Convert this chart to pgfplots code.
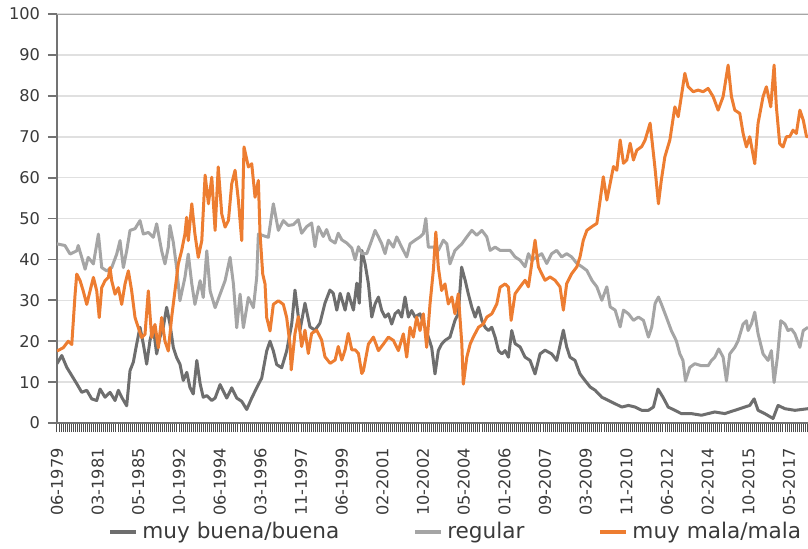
\documentclass[border=0pt]{standalone}
\usepackage{fontspec}
\setmainfont{DejaVu Sans}
\usepackage{pgfplots}
\pgfplotsset{compat=1.18}
\definecolor{cbuena}{HTML}{6E6E6E}
\definecolor{cregular}{HTML}{A5A5A5}
\definecolor{cmala}{HTML}{ED7D31}
\definecolor{ctext}{HTML}{3A3A3A}

\begin{document}
\begin{tikzpicture}
\begin{axis}[
  width=375.5pt, height=204.5pt, scale only axis,
  xmin=0, xmax=361, ymin=0, ymax=100,
  axis lines=left, axis line style={-, black!55, line width=0.9pt},
  tick align=outside,
  xtick={0,19.55,...,352},
  xticklabels={06-1979,03-1981,05-1985,10-1992,06-1994,03-1996,11-1997,06-1999,02-2001,10-2002,05-2004,01-2006,09-2007,03-2009,11-2010,06-2012,02-2014,10-2015,05-2017},
  minor xtick={0,0.9775,...,361},
  major tick length=4.5pt, minor tick length=4.5pt,
  x tick style={black!70, line width=0.5pt},
  ytick={0,10,...,100},
  y tick style={black!55, line width=0.9pt},
  ymajorgrids, grid style={black!12, line width=0.8pt},
  tick label style={font=\fontsize{8.1}{10}\selectfont, text=ctext},
  xticklabel style={rotate=90, anchor=east},
  xticklabel shift=4.5pt,
  yticklabel shift=0.5pt,
  /pgf/number format/assume math mode=true,
  legend columns=-1,
  legend style={at={(0.0679,-0.2665)}, anchor=west, draw=none, fill=none, inner sep=0pt,
    font=\fontsize{10.8}{12}\selectfont, text=ctext,
    /tikz/every even column/.append style={column sep=35pt}},
  legend image code/.code={\draw[#1, line width=2pt] (0pt,0pt) -- (13pt,0pt);},
]
\draw[black!35, line width=0.9pt] (axis cs:0,100) -- (axis cs:361,100);

% muy buena/buena
\addplot[cbuena, line width=1.5pt, line join=round] coordinates {
(0,14.5)(2.3,16.5)(4.7,13.6)(7.1,11.6)(9.5,9.6)(11.9,7.5)(14.3,8)(16.7,5.9)(19.1,5.5)(20.7,8.3)(23.1,6.3)(25.5,7.5)(27.9,5.5)(29.5,8)(31.1,6.3)(33.5,4.2)(35.1,12.8)(36.7,14.9)(38.3,19.3)(39.9,23.4)(41.5,19.3)(43.1,14.4)(44.7,20.2)(46.3,23.4)(47.9,16.9)(49.5,21)(51.1,23.4)(52.7,28.3)(54.3,24.2)(55.9,18.5)(57.5,16)(59.1,14.4)(60.7,10.4)(62.4,12.4)(63.9,8.7)(65.5,7.1)(67.2,15.3)(68.8,9.6)(70.3,6.3)(72,6.7)(74.4,5.5)(76,6.1)(78.4,9.4)(81.6,6.1)(84,8.6)(86.4,6.1)(88.8,5.3)(91.2,3.3)(93.6,6.1)(96,8.6)(98.4,11)(100.8,17.6)(102.4,20)(104,17.6)(105.6,14.3)(108,13.5)(110.4,17.6)(112.8,24.1)(114.4,32.5)(116.8,22.7)(119.2,29.3)(121.6,23.5)(124,22.7)(126.4,24.4)(128.8,29.3)(131.2,32.5)(132.8,31.7)(134.5,27.6)(136.1,31.7)(138.5,27.6)(140,31.7)(142.5,27.6)(144.1,34.2)(145.3,29.3)(146.5,42.2)(148.1,38.9)(149.7,34)(151.3,25.9)(152.9,29.1)(154.5,30.8)(156.1,27.5)(157.7,25.9)(159.3,26.7)(160.9,24.2)(162.5,26.7)(164.1,27.5)(165.7,25.9)(167.3,30.8)(168.9,25.9)(170.5,27.5)(172.1,25.9)(174.5,26.7)(176.9,23.4)(178.5,21)(180.1,18.5)(181.7,12)(183.3,17.7)(184.9,19.3)(186.5,20.2)(188.9,21)(191.3,25.1)(192.9,26.7)(194.5,38.1)(196.2,34.9)(197.7,31.6)(199.4,28.3)(201,25.9)(202.6,28.3)(204.2,25.1)(205.8,23.4)(207.4,22.6)(209,23.4)(210.6,21)(212.2,17.7)(213.8,16.9)(215.4,17.7)(217,16.1)(218.6,22.6)(220.2,19.4)(222.6,18.6)(225,16.1)(227.4,15.3)(229.8,12)(232.2,16.9)(234.6,17.8)(237.8,16.9)(240.2,15.3)(243.4,22.7)(245,18.6)(246.6,16.1)(249,15.3)(251.4,12)(253.8,10.4)(256.3,8.8)(258.7,8)(261.9,6.3)(265.1,5.5)(268.3,4.7)(271.5,3.9)(274.7,4.3)(277.9,3.9)(281.1,3.1)(284.3,3.1)(286.7,3.9)(288.9,8.3)(291.3,6.3)(293.8,3.9)(297,3.1)(300.1,2.3)(304.9,2.3)(309.8,1.9)(316.2,2.7)(321,2.3)(325.8,3.1)(330.6,3.9)(333,4.3)(335.1,5.9)(337,3.1)(340.2,2.3)(344.2,1.1)(346.6,4.3)(349.9,3.5)(354.7,3.1)(361,3.5)
};
\addlegendentry{muy buena/buena}

% regular
\addplot[cregular, line width=1.5pt, line join=round] coordinates {
(0,43.8)(3.8,43.4)(6.3,41.3)(9.5,42.1)(10.2,43.4)(11.9,40.5)(13.5,37.6)(15,40.5)(17.5,38.9)(19.9,46.2)(21.5,38)(23.9,37.2)(26.3,38)(28.7,41.3)(30.3,44.6)(31.9,38)(33.5,42.1)(35.1,47.1)(37.5,47.5)(39.9,49.5)(41.5,46.2)(43.9,46.6)(46.3,45.4)(47.9,48.7)(50.3,42.1)(51.9,38.9)(53.5,43)(54.3,48.3)(55.9,44.2)(57.5,38)(59.1,29.9)(61.5,35.6)(63.1,41.3)(64.8,34)(66.3,29)(68.8,34.8)(70.3,30.7)(72,42.1)(73.6,32.3)(76,28.2)(78.4,31.5)(80.8,34.8)(83.2,40.5)(84.8,34)(86.4,23.3)(88,31.5)(89.6,23.3)(92,30.7)(94.4,28.2)(96,35.6)(96.8,46.2)(99.2,45.8)(101.6,45.4)(104,53.6)(106.4,47.1)(108.8,49.5)(111.2,48.3)(113.6,48.5)(116,49.7)(117.6,46.4)(120,48)(122.4,48.9)(124,43.1)(125.6,48)(128,45.6)(129.6,47.3)(131.3,44.8)(133.7,44)(135.2,46.4)(136.9,44.8)(139.3,44)(141.7,42.8)(143.3,39.9)(144.9,43.1)(146.5,41.4)(148.9,41.4)(151.3,44.7)(152.9,47.1)(154.5,45.5)(156.1,43.8)(157.7,41.4)(159.3,44.7)(161.7,43)(163.3,45.5)(165.7,43)(168.1,40.6)(169.7,43.8)(172.1,44.7)(174.5,45.5)(176.1,46.3)(177.3,50)(178.5,43)(180.9,43)(183.3,42.2)(185.7,44.7)(187.4,43.8)(188.9,38.9)(191.3,42.2)(194.6,43.8)(197,45.5)(199.4,47.1)(201.8,45.9)(204.2,47.1)(206.6,45.5)(208.2,42.2)(210.6,43)(213,42.2)(215.4,42.2)(217.8,42.2)(220.2,40.6)(222.6,39.8)(225,38.2)(226.6,41.4)(228.2,39.8)(230.6,40.6)(233,41.4)(235.4,39)(237.8,41.4)(240.2,42.2)(242.6,40.6)(245,41.4)(247.4,40.6)(249.9,39)(252.3,38.2)(254.7,37.3)(257.1,34.9)(259.5,33.3)(261.9,30)(264.3,33.3)(265.9,28.4)(268.3,27.6)(270.7,23.5)(272.3,27.6)(274.7,26.7)(277.1,25.1)(279.5,25.9)(281.9,25.1)(284.3,21)(285.9,23.5)(287.5,29.2)(289.1,30.8)(290.5,29.1)(292.9,25.9)(295.3,22.6)(297.7,20.1)(299.4,16.9)(300.9,15.3)(302.1,10.3)(304.2,13.6)(306.6,14.5)(309.8,14)(313,14)(314.6,15.3)(316.2,16.1)(318.1,18.1)(320.2,16.1)(321.8,10.3)(323.4,16.9)(325.8,18.5)(327.4,20.1)(329.8,24.2)(331.4,25)(332.2,22.6)(333.8,24.2)(335.4,27.1)(337,21.8)(339.4,16.9)(341.8,15.3)(343.4,17.7)(344.7,9.9)(346.3,16.1)(347.9,25)(349.9,24.2)(351.4,22.6)(353,23)(354.7,21.8)(357.1,18.5)(358.7,22.6)(361,23.4)
};
\addlegendentry{regular}

% muy mala/mala
\addplot[cmala, line width=1.5pt, line join=round] coordinates {
(0,17.6)(3,18.4)(5.4,20)(7.1,19.2)(8.7,31.5)(9.5,36.4)(11.1,34.8)(12.6,32.3)(14.3,29)(15.9,32.3)(17.5,35.6)(19.1,32.3)(20.3,25.8)(21.5,33.1)(23.1,34.8)(24.7,35.6)(25.5,38)(26.3,34.8)(27.9,31.5)(29.5,33.1)(31.1,29)(32.7,34)(34.3,37.2)(35.9,32.3)(37.5,25.8)(39.1,23.3)(40.7,20.9)(42.3,21.7)(43.9,32.3)(45.5,20.9)(47.1,24.1)(48.7,18.4)(50.3,25.8)(51.9,20)(53.5,17.6)(55.1,25.8)(56.7,32.3)(58.3,38.9)(59.9,42.1)(61.5,46.2)(62.3,50.3)(63.1,44.6)(64.8,53.6)(66.3,46.2)(67.9,40.5)(69.6,44.6)(71.2,60.6)(72.8,53.6)(74.4,60.1)(76,47.1)(77.5,62.6)(79.2,51.1)(80.8,47.9)(82.4,49.5)(84,58.5)(85.6,61.8)(87.2,54.4)(88.8,44.6)(89.9,67.5)(92,62.6)(93.6,63.4)(95.2,55.2)(96.8,59.3)(97.6,46.2)(98.9,36.4)(100,34)(100.8,25.8)(102.4,22.5)(104,29)(106.4,29.9)(108.8,29)(110.4,25.8)(112,19.2)(112.6,13)(114.4,21.9)(116,26)(117.6,18.7)(119.2,22.7)(120.8,17)(122.4,21.9)(124.8,22.7)(127.2,20.3)(128.8,16.2)(131.3,14.6)(133.7,15.4)(135.2,18.7)(136.9,15.4)(138.5,17.9)(140,21.9)(141.7,17.9)(143.3,17.9)(144.9,17)(146.5,12.1)(147.3,12.8)(149.7,19.3)(152.1,21)(154.5,17.7)(156.9,19.3)(159.3,21)(161.7,20.2)(164.1,17.7)(166.5,21.8)(168.1,16.1)(169.7,23.4)(171.3,21)(172.9,25.9)(174.5,22.6)(176.1,26.7)(177.7,18.5)(179.3,29.1)(180.9,37.3)(182.1,46.7)(183.3,38.1)(184.9,32.4)(186.5,34)(188.1,29.1)(189.8,30.8)(191.3,26.7)(192.9,31.6)(194.6,19.3)(195.3,9.5)(197,16.1)(198.6,19.3)(200.1,21)(202.6,23.4)(204.9,24.2)(206.6,25.9)(209,26.7)(211.4,29.1)(213,33.2)(215.4,34)(217,33.2)(218.3,25.1)(220.2,31.6)(222.6,33.3)(225,34.9)(226.6,33.3)(228.2,39)(229.8,44.7)(231.4,38.2)(233,36.5)(234.6,34.9)(237,35.7)(239.4,34.9)(241.8,33.3)(243.4,27.6)(245,34.1)(247.4,36.5)(249.9,38.2)(251.4,40.6)(253,44.7)(254.7,47.1)(257.1,48)(259.5,48.8)(261.1,54.5)(262.6,60.2)(264.3,54.5)(265.9,58.6)(267.5,62.7)(269.1,61.8)(270.7,69.2)(272.3,63.5)(273.9,64.3)(275.5,68.4)(277.1,64.3)(278.7,66.7)(281.1,67.6)(282.7,69.2)(285.1,73.3)(287.4,62.6)(289.1,53.6)(290.5,59.4)(292.2,65.1)(294.6,69.2)(297,77.3)(298.6,74.9)(300.1,79.8)(301.8,85.5)(303.4,82.2)(305.8,81)(308.2,81.4)(310.6,81)(313,81.8)(315.4,79.8)(317.8,76.5)(320.2,79.8)(322.6,87.5)(324.2,79.8)(325.8,76.5)(328.2,75.7)(329.8,70.8)(331.4,67.5)(333,70)(335.4,63.4)(337,73.3)(339.4,79.8)(341,82.2)(343.1,77.3)(344.7,87.5)(345.8,77.3)(347.4,68.3)(349,67.5)(350.6,70)(352.2,70)(353.8,71.6)(355.4,70.8)(357.1,76.5)(358.7,74.1)(360.3,70)(361,70)
};
\addlegendentry{muy mala/mala}
\end{axis}
\pgfresetboundingbox
\path[use as bounding box] (-28.5pt,-62.5pt) rectangle (375.5pt,211.5pt);
\end{tikzpicture}
\end{document}
